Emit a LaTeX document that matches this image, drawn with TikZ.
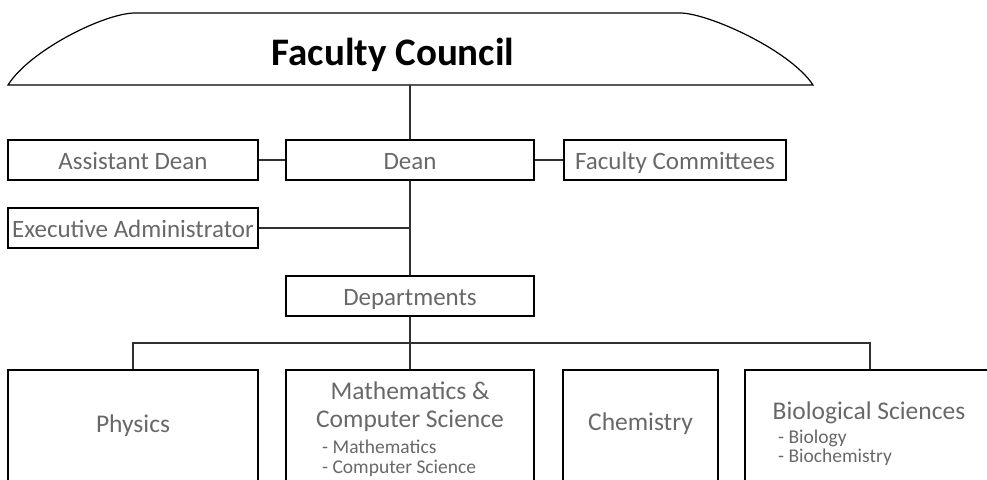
\documentclass[tikz,border=0pt]{standalone}
\usepackage{fontspec}
\setmainfont{Carlito}
\definecolor{txtgray}{HTML}{686868}
\definecolor{linegray}{HTML}{303030}
\begin{document}
\begin{tikzpicture}[x=1pt,y=-1pt,
  box/.style={draw=black, line width=1.2pt, rectangle, inner sep=0pt, minimum height=40pt,
    text=txtgray, font=\fontsize{25}{28}\selectfont, text height=19pt, text depth=0pt},
  big/.style={draw=black, line width=1.2pt, rectangle, inner sep=0pt},
  lbl/.style={text=txtgray, font=\fontsize{25.5}{28}\selectfont, inner sep=0pt, anchor=base},
  sub/.style={text=txtgray, font=\fontsize{19.5}{22}\selectfont, inner sep=0pt, anchor=base west},
  conn/.style={draw=linegray, line width=1.2pt}]
\useasboundingbox (0,0) rectangle (987,479);
\clip (0,0) rectangle (987,479);
% council shape
\draw[line width=1.2pt] (8,85) .. controls (30,50) and (105,13) .. (135,13) -- (680,13)
  .. controls (708,13) and (790,50) .. (813,85) -- cycle;
\node[font=\fontsize{39}{44}\selectfont\bfseries, inner sep=0pt, anchor=base] (council) at (393,65) {Faculty Council};
\coordinate (cb) at (410,85);
% second row
\node[box, minimum width=248pt] (dean) at (410,160) {Dean};
\node[box, minimum width=250pt] (asst) at (133,160) {Assistant Dean};
\node[box, minimum width=222pt] (comm) at (675,160) {Faculty Committees};
\node[box, minimum width=250pt] (exec) at (133,228) {Executive Administrator};
\node[box, minimum width=248pt] (dept) at (410,296) {Departments};
% bottom boxes
\node[big, minimum width=250pt, minimum height=140pt] (phys) at (133,440) {};
\node[big, minimum width=248pt, minimum height=140pt] (math) at (410,440) {};
\node[big, minimum width=155pt, minimum height=140pt] (chem) at (640.5,440) {};
\node[big, minimum width=250pt, minimum height=140pt] (bio) at (870,440) {};
% bottom labels
\node[lbl] (physl) at (133,432) {Physics};
\node[lbl] (mathl1) at (410,399) {Mathematics \&};
\node[lbl] (mathl2) at (410,427) {Computer Science};
\node[sub] (maths1) at (322,453) {- Mathematics};
\node[sub] (maths2) at (322,473) {- Computer Science};
\node[lbl] (cheml) at (640.5,430) {Chemistry};
\node[lbl] (biol) at (869,419) {Biological Sciences};
\node[sub] (bios1) at (778,443) {- Biology};
\node[sub] (bios2) at (778,462) {- Biochemistry};
% connectors
\coordinate (bus) at (410,343);
\draw[conn] (cb) -- (dean.north);
\draw[conn] (asst.east) -- (dean.west);
\draw[conn] (dean.east) -- (comm.west);
\draw[conn] (dean.south) -- (dept.north);
\draw[conn] (exec.east) -- (exec.east -| dean.south);
\draw[conn] (dept.south) -- (math.north);
\draw[conn] (phys.north) |- (bus) -| (bio.north);
\end{tikzpicture}
\end{document}
